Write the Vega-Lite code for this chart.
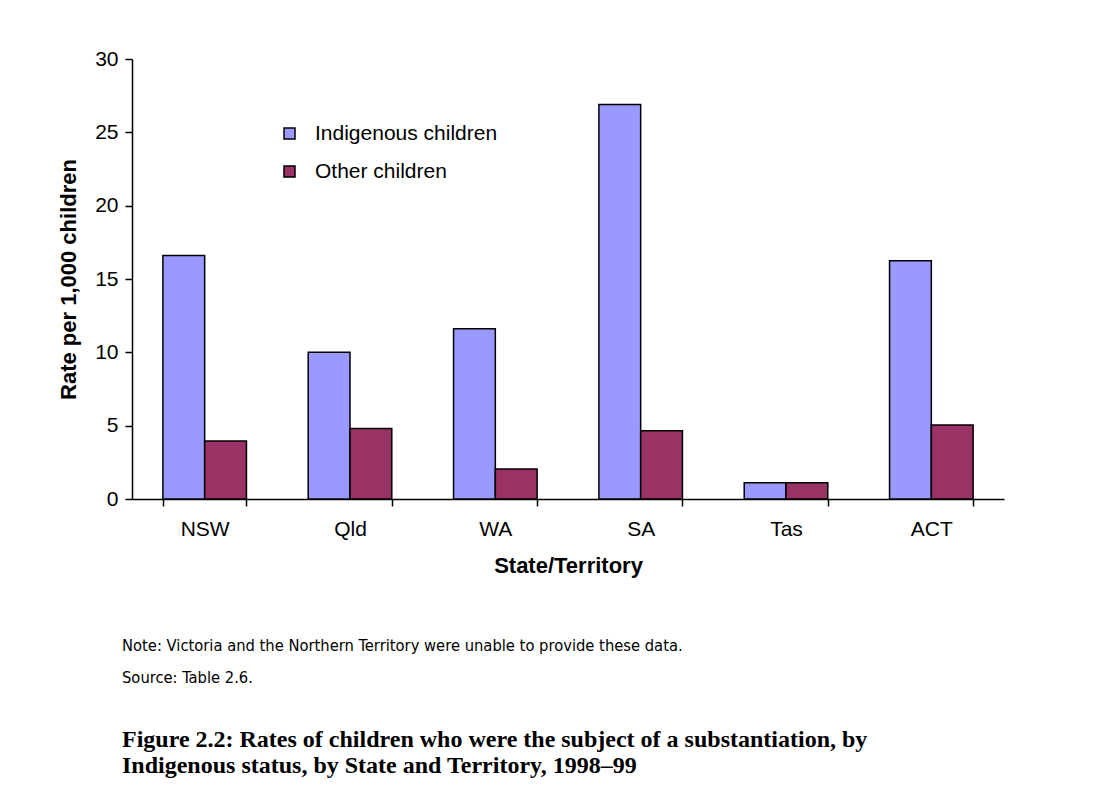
{
  "$schema": "https://vega.github.io/schema/vega-lite/v6.json",
  "autosize": "none",
  "width": 872,
  "height": 440,
  "padding": {"left": 132, "top": 59, "right": 105, "bottom": 311},
  "background": "white",
  "config": {
    "view": {"stroke": null},
    "font": "Liberation Sans"
  },
  "title": {
    "text": ["Note: Victoria and the Northern Territory were unable to provide these data.", "Source:  Table 2.6."],
    "subtitle": ["Figure 2.2: Rates of children who were the subject of a substantiation, by", "Indigenous status, by State and Territory, 1998–99"],
    "orient": "bottom",
    "anchor": "start",
    "frame": "group",
    "offset": 62,
    "dx": -10,
    "font": "DejaVu Sans Condensed, Liberation Sans",
    "fontSize": 16.4,
    "fontWeight": "normal",
    "lineHeight": 32,
    "color": "black",
    "subtitleFont": "Liberation Serif",
    "subtitleFontSize": 24,
    "subtitleFontWeight": "bold",
    "subtitleLineHeight": 26,
    "subtitleColor": "black",
    "subtitlePadding": 42
  },
  "data": {
    "values": [
      {"state": "NSW", "group": "Indigenous children", "rate": 16.6},
      {"state": "NSW", "group": "Other children", "rate": 3.95},
      {"state": "Qld", "group": "Indigenous children", "rate": 10.0},
      {"state": "Qld", "group": "Other children", "rate": 4.8},
      {"state": "WA", "group": "Indigenous children", "rate": 11.6},
      {"state": "WA", "group": "Other children", "rate": 2.05},
      {"state": "SA", "group": "Indigenous children", "rate": 26.9},
      {"state": "SA", "group": "Other children", "rate": 4.65},
      {"state": "Tas", "group": "Indigenous children", "rate": 1.1},
      {"state": "Tas", "group": "Other children", "rate": 1.1},
      {"state": "ACT", "group": "Indigenous children", "rate": 16.25},
      {"state": "ACT", "group": "Other children", "rate": 5.05}
    ]
  },
  "mark": {"type": "bar", "stroke": "black", "strokeWidth": 1.5},
  "encoding": {
    "x": {
      "field": "state",
      "type": "nominal",
      "sort": ["NSW", "Qld", "WA", "SA", "Tas", "ACT"],
      "scale": {"paddingInner": 0.425, "paddingOuter": 0.2125},
      "axis": {
        "title": "State/Territory",
        "titleFont": "Liberation Sans",
        "titleFontSize": 22,
        "titleFontWeight": "bold",
        "titleColor": "black",
        "titlePadding": 16,
        "labelAngle": 0,
        "labelFontSize": 21,
        "labelColor": "black",
        "labelPadding": 12,
        "tickBand": "extent",
        "tickSize": 7,
        "tickColor": "black",
        "tickWidth": 1.5,
        "domainColor": "black",
        "domainWidth": 1.5,
        "grid": false
      }
    },
    "xOffset": {
      "field": "group",
      "type": "nominal",
      "scale": {"paddingInner": 0, "paddingOuter": 0}
    },
    "y": {
      "field": "rate",
      "type": "quantitative",
      "scale": {"domain": [0, 30], "nice": false},
      "axis": {
        "title": "Rate per 1,000 children",
        "titleFont": "Liberation Sans",
        "titleFontSize": 22,
        "titleFontWeight": "bold",
        "titleColor": "black",
        "titlePadding": 14,
        "values": [0, 5, 10, 15, 20, 25, 30],
        "labelFontSize": 21,
        "labelColor": "black",
        "labelPadding": 7,
        "tickSize": 7,
        "tickColor": "black",
        "tickWidth": 1.5,
        "domainColor": "black",
        "domainWidth": 1.5,
        "grid": false
      }
    },
    "color": {
      "field": "group",
      "type": "nominal",
      "scale": {"domain": ["Indigenous children", "Other children"], "range": ["#9999FF", "#993366"]},
      "legend": {
        "title": null,
        "orient": "none",
        "legendX": 147,
        "legendY": 64,
        "symbolType": "square",
        "symbolSize": 121,
        "symbolStrokeColor": "black",
        "symbolStrokeWidth": 1.5,
        "labelFontSize": 21,
        "labelColor": "black",
        "labelOffset": 15,
        "labelLimit": 400,
        "rowPadding": 16
      }
    }
  }
}
